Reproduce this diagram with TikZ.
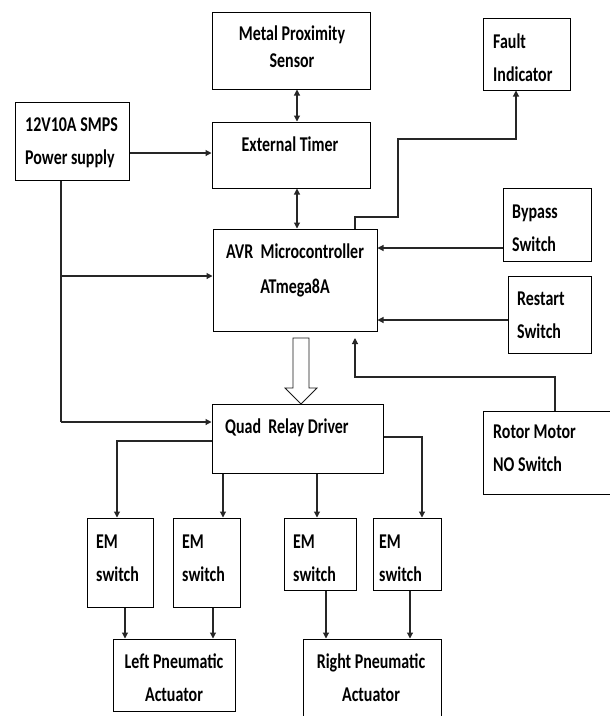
\documentclass[tikz,border=0pt]{standalone}
\usepackage{fontspec}
\setmainfont{Carlito}[FakeStretch=0.76,BoldFont={Carlito Bold}]
\usetikzlibrary{arrows.meta}
\begin{document}
\begin{tikzpicture}[x=1pt,y=-1pt,
  box/.style={draw=black,line width=1pt,rectangle,inner sep=0pt},
  txt/.style={inner sep=0pt,font=\fontsize{21}{33}\selectfont\bfseries},
  ln/.style={draw=black!85,line width=1.1pt},
  arr/.style={ln,-{Triangle[length=6pt,width=6pt]}},
  arr2/.style={ln,{Triangle[length=6pt,width=6pt]}-{Triangle[length=6pt,width=6pt]}}]
\clip (0,0) rectangle (610,716);
\fill[white] (0,0) rectangle (610,716);
% boxes
\node[box,minimum width=158pt,minimum height=77pt] (metal) at (291,50.5) {};
\node[box,minimum width=158pt,minimum height=66pt] (timer) at (291,155) {};
\node[box,minimum width=114pt,minimum height=78pt] (ps) at (72,141) {};
\node[box,minimum width=164pt,minimum height=102pt] (avr) at (295,280) {};
\node[box,minimum width=87pt,minimum height=72pt] (fault) at (526.5,54) {};
\node[box,minimum width=88pt,minimum height=73pt] (bypass) at (547,224.5) {};
\node[box,minimum width=83pt,minimum height=77pt] (restart) at (549.5,314.5) {};
\node[box,minimum width=132pt,minimum height=83pt] (rotor) at (549,452.5) {};
\node[box,minimum width=171pt,minimum height=69pt] (quad) at (297.5,438.5) {};
\node[box,minimum width=66pt,minimum height=89pt] (em1) at (120,562.5) {};
\node[box,minimum width=67pt,minimum height=89pt] (em2) at (206.5,562.5) {};
\node[box,minimum width=72pt,minimum height=72pt] (em3) at (320,554) {};
\node[box,minimum width=68pt,minimum height=72pt] (em4) at (407,554) {};
\node[box,minimum width=122pt,minimum height=72pt] (lact) at (174,675) {};
\node[box,minimum width=138pt,minimum height=83pt] (ract) at (372,680.5) {};
% texts (anchor = baseline of last line)
\node[txt,anchor=base,align=center] (metalt) at (292,67) {Metal Proximity\\[-6pt]Sensor};
\node[txt,anchor=base] (timert) at (290,151.5) {External Timer};
\node[txt,anchor=base west,align=left] (pst) at (25,164.5) {12V10A SMPS\\Power supply};
\node[txt,anchor=base west,align=left] (faultt) at (493,81.7) {Fault\\Indicator};
\node[txt,anchor=base west,align=left] (bypasst) at (512,251.7) {Bypass\\Switch};
\node[txt,anchor=base,align=center] (avrt) at (295,293.3) {AVR~ Microcontroller\\[2pt]ATmega8A};
\node[txt,anchor=base west,align=left] (restartt) at (517,338.3) {Restart\\Switch};
\node[txt,anchor=base west,align=left] (rotort) at (493,471.7) {Rotor Motor\\NO Switch};
\node[txt,anchor=base west] (quadt) at (225,433.3) {Quad~ Relay Driver};
\node[txt,anchor=base west,align=left] (em1t) at (96,581.7) {EM\\switch};
\node[txt,anchor=base west,align=left] (em2t) at (182,581.7) {EM\\switch};
\node[txt,anchor=base west,align=left] (em3t) at (293,581.7) {EM\\switch};
\node[txt,anchor=base west,align=left] (em4t) at (379,581.7) {EM\\switch};
\node[txt,anchor=base,align=center] (lactt) at (174,701.7) {Left Pneumatic\\Actuator};
\node[txt,anchor=base,align=center] (ractt) at (371,701.7) {Right Pneumatic\\Actuator};
% helper coordinates
\coordinate (x297) at (297,0);
\coordinate (x355) at (355,0);
\coordinate (x516) at (516,0);
\coordinate (x555) at (555,0);
\coordinate (x61) at (61,0);
\coordinate (y153) at (0,153);
\coordinate (y248) at (0,248);
\coordinate (y320) at (0,320);
\coordinate (y276) at (0,276);
\coordinate (y422) at (0,422);
\coordinate (y441) at (0,441);
\coordinate (y437) at (0,437);
\coordinate (rotend) at (355,338);
% connectors
\draw[arr] (ps.east |- y153) -- (timer.west |- y153);
\draw[arr2] (metal.south -| x297) -- (timer.north -| x297);
\draw[arr2] (timer.south -| x297) -- (avr.north -| x297);
\draw[arr] (avr.north -| x355) -- (355,217) -- (398,217) -- (398,139) -- (516,139) -- (fault.south -| x516);
\draw[arr] (bypass.west |- y248) -- (avr.east |- y248);
\draw[arr] (restart.west |- y320) -- (avr.east |- y320);
\draw[arr] (rotor.north -| x555) -- (555,377) -- (355,377) -- (rotend);
\draw[ln] (ps.south -| x61) -- (61,422);
\draw[arr] (61,276) -- (avr.west |- y276);
\draw[arr] (61,422) -- (quad.west |- y422);
% hollow arrow
\draw[line width=0.8pt,draw=black!90,fill=white] (293,338) -- (309,338) -- (309,388) -- (317,388) -- (301,404) -- (285,388) -- (293,388) -- cycle;
% relay outputs
\draw[arr] (quad.west |- y441) -- (117,441) -- (em1.north -| 117,0);
\draw[arr] (quad.south -| 223,0) -- (em2.north -| 223,0);
\draw[arr] (quad.south -| 317,0) -- (em3.north -| 317,0);
\draw[arr] (quad.east |- y437) -- (422,437) -- (em4.north -| 422,0);
% switches to actuators
\draw[arr] (em1.south -| 125,0) -- (lact.north -| 125,0);
\draw[arr] (em2.south -| 213,0) -- (lact.north -| 213,0);
\draw[arr] (em3.south -| 326,0) -- (ract.north -| 326,0);
\draw[arr] (em4.south -| 410,0) -- (ract.north -| 410,0);
\end{tikzpicture}
\end{document}
